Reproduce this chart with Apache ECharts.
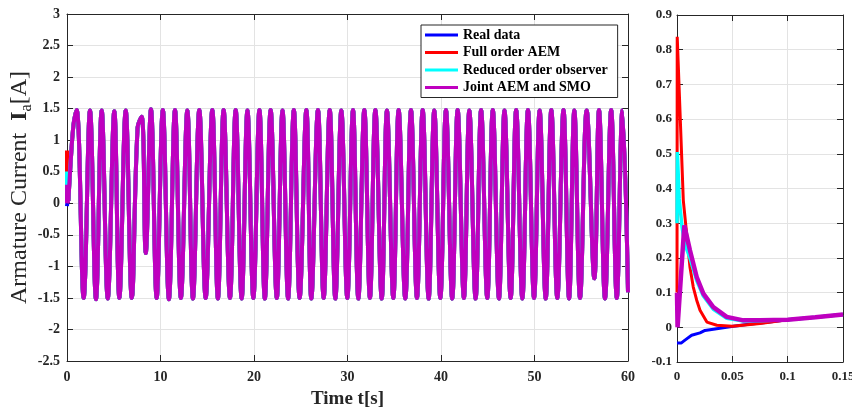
<!DOCTYPE html>
<html><head><meta charset="utf-8">
<script src="https://cdn.jsdelivr.net/npm/echarts@6/dist/echarts.min.js"></script>
<style>html,body{margin:0;padding:0;background:#fff}#c{width:852px;height:409px}</style>
</head><body><div id="c"></div>
<script>
// ---------- data ----------
const seriesNames = ['Real data', 'Full order AEM', 'Reduced order observer', 'Joint AEM and SMO'];

// start-up transient (t in s)
const realT = [0, 0.004, 0.0072, 0.0132, 0.0208, 0.0253, 0.0358, 0.0509, 0.065, 0.08, 0.1, 0.125, 0.15];
const realV = [-0.045, -0.045, -0.037, -0.023, -0.016, -0.009, -0.004, 0.003, 0.009, 0.014, 0.022, 0.029, 0.037];

const fullT = [0, 0.0002, 0.0057, 0.0087, 0.0117, 0.0147, 0.0178, 0.0208, 0.027, 0.036, 0.05, 0.075, 0.1, 0.125, 0.15];
const fullV = [0.1, 0.837, 0.366, 0.27, 0.174, 0.116, 0.078, 0.049, 0.015, 0.006, 0.003, 0.011, 0.022, 0.029, 0.037];

const reducedT = [0, 0.0003, 0.002, 0.0045, 0.007, 0.0117, 0.0178, 0.0238, 0.0328, 0.0449, 0.06, 0.075, 0.1, 0.125, 0.15];
const reducedV = [0.3, 0.505, 0.37, 0.29, 0.24, 0.2, 0.135, 0.09, 0.052, 0.026, 0.018, 0.019, 0.022, 0.029, 0.037];

const jointT = [0, 0.0005, 0.0066, 0.0117, 0.0178, 0.0238, 0.0328, 0.0449, 0.06, 0.075, 0.1, 0.125, 0.15];
const jointV = [0.1, 0.0, 0.294, 0.222, 0.145, 0.097, 0.058, 0.03, 0.02, 0.02, 0.022, 0.029, 0.037];

// steady oscillation (all four estimates coincide), extrema
const oscT = [0.15, 0.35, 0.7, 1.03, 1.78, 2.46, 3.1, 3.71, 4.36, 5.06, 5.6, 6.28, 6.93, 7.55, 7.99, 8.42, 8.98, 9.59,
  10.25, 10.9, 11.55, 12.18, 12.87, 13.47, 14.15, 14.83, 15.54, 16.14, 16.75, 17.43, 18.04, 18.68, 19.3, 19.93,
  20.58, 21.16, 21.78, 22.44, 23.05, 23.65, 24.26, 24.88, 25.6, 26.13, 26.84, 27.45, 28.1, 28.7, 29.34, 29.98,
  30.59, 31.16, 31.8, 32.4, 32.98, 33.66, 34.22, 34.9, 35.47, 36.18, 36.79, 37.43, 38.04, 38.68, 39.28, 39.93,
  40.53, 41.2, 41.78, 42.45, 43.03, 43.7, 44.29, 44.95, 45.54, 46.2, 46.79, 47.45, 48.04, 48.7, 49.3, 49.95,
  50.55, 51.2, 51.8, 52.44, 53.1, 53.7, 54.26, 54.87, 55.58, 56.4, 56.9, 57.54, 58.2, 58.8, 59.4, 60];
const oscV = [0.037, 0.55, 1.25, 1.48, -1.5, 1.47, -1.52, 1.47, -1.51, 1.46, -1.5, 1.47, -1.5, 1.2, 1.37, -0.79, 1.49, -1.5,
  1.48, -1.52, 1.48, -1.5, 1.47, -1.51, 1.48, -1.5, 1.48, -1.51, 1.48, -1.5, 1.48, -1.51, 1.47, -1.5,
  1.48, -1.51, 1.48, -1.5, 1.47, -1.51, 1.48, -1.5, 1.48, -1.51, 1.48, -1.5, 1.48, -1.51, 1.47, -1.5,
  1.48, -1.51, 1.48, -1.5, 1.48, -1.51, 1.47, -1.5, 1.48, -1.51, 1.48, -1.5, 1.48, -1.51, 1.47, -1.5,
  1.48, -1.51, 1.48, -1.5, 1.47, -1.51, 1.48, -1.5, 1.48, -1.51, 1.47, -1.5, 1.48, -1.51, 1.48, -1.5,
  1.47, -1.51, 1.48, -1.5, 1.48, -1.51, 1.47, -1.5, 1.47, -1.19, 1.48, -1.51, 1.48, -1.5, 1.47, -1.41];

// ---------- chart ----------
const colors = ['#0000FF', '#FF0000', '#00FFFF', '#BF00BF'];
const transT = [realT, fullT, reducedT, jointT];
const transV = [realV, fullV, reducedV, jointV];
const insetWidths = [3, 3, 3.5, 4.5];
const zip = (t, v) => t.map((x, i) => [x, v[i]]);

const FONT = 'Liberation Serif';
const AX = '#262626';
const GRIDC = '#E3E3E3';

function axisBase(extra) {
  return Object.assign({
    type: 'value',
    axisLine: { show: true, onZero: false, lineStyle: { color: AX, width: 1 } },
    axisTick: { show: true, inside: true, length: 6, lineStyle: { color: AX } },
    splitLine: { show: false },
    axisLabel: { show: false }
  }, extra);
}
const lab = (size, margin) => ({ show: true, color: AX, fontFamily: FONT, fontWeight: 'bold', fontSize: size, margin: margin, hideOverlap: false });

const series = [];
for (let i = 0; i < 4; i++) {
  series.push({
    name: seriesNames[i], type: 'line', xAxisIndex: 0, yAxisIndex: 0,
    data: zip(transT[i], transV[i]), showSymbol: false, symbol: 'none', clip: false,
    color: colors[i], lineStyle: { color: colors[i], width: 4 }, animation: false
  });
  series.push({
    name: seriesNames[i], type: 'line', xAxisIndex: 0, yAxisIndex: 0,
    data: zip(oscT, oscV), showSymbol: false, symbol: 'none', smooth: 0.4,
    color: colors[i], lineStyle: { color: colors[i], width: 4 }, animation: false
  });
  series.push({
    name: seriesNames[i], type: 'line', xAxisIndex: 2, yAxisIndex: 2,
    data: zip(transT[i], transV[i]), showSymbol: false, symbol: 'none',
    color: colors[i], lineStyle: { color: colors[i], width: insetWidths[i] }, animation: false
  });
}

const option = {
  backgroundColor: '#fff',
  animation: false,
  grid: [
    { left: 67, right: 224, top: 14, bottom: 48, containLabel: false, outerBoundsMode: 'none' },
    { left: 677, right: 9, top: 15, bottom: 47, containLabel: false, outerBoundsMode: 'none' }
  ],
  xAxis: [
    axisBase({ gridIndex: 0, min: 0, max: 60, interval: 10, position: 'bottom',
      axisLabel: lab(14, 9),
      splitLine: { show: true, lineStyle: { color: GRIDC, width: 1 } },
      name: 'Time t[s]', nameLocation: 'middle', nameGap: 29,
      nameTextStyle: { fontFamily: FONT, fontWeight: 'bold', fontSize: 19, color: AX } }),
    axisBase({ gridIndex: 0, min: 0, max: 60, interval: 10, position: 'top' }),
    axisBase({ gridIndex: 1, min: 0, max: 0.15, interval: 0.05, position: 'bottom',
      axisLabel: lab(13, 8),
      splitLine: { show: true, lineStyle: { color: GRIDC, width: 1 } } }),
    axisBase({ gridIndex: 1, min: 0, max: 0.15, interval: 0.05, position: 'top' })
  ],
  yAxis: [
    axisBase({ gridIndex: 0, min: -2.5, max: 3, interval: 0.5, position: 'left',
      axisLabel: lab(14, 7),
      splitLine: { show: true, lineStyle: { color: GRIDC, width: 1 } },
      name: '{t|Armature Current  }{i|I}{s|a}{t|[A]}', nameLocation: 'middle', nameGap: 32, nameRotate: 90,
      nameMoveOverlap: false,
      nameTextStyle: {
        rich: {
          t: { fontFamily: FONT, fontSize: 24, color: AX, lineHeight: 30, verticalAlign: 'middle' },
          i: { fontFamily: FONT, fontSize: 24, fontWeight: 'bold', color: AX, lineHeight: 30, verticalAlign: 'middle' },
          s: { fontFamily: FONT, fontSize: 16, color: AX, lineHeight: 16, verticalAlign: 'bottom' }
        }
      } }),
    axisBase({ gridIndex: 0, min: -2.5, max: 3, interval: 0.5, position: 'right' }),
    axisBase({ gridIndex: 1, min: -0.1, max: 0.9, interval: 0.1, position: 'left',
      axisLabel: lab(13, 5),
      splitLine: { show: true, lineStyle: { color: GRIDC, width: 1 } } }),
    axisBase({ gridIndex: 1, min: -0.1, max: 0.9, interval: 0.1, position: 'right' })
  ],
  legend: {
    data: seriesNames, orient: 'vertical', left: 421, top: 25,
    icon: 'rect', itemWidth: 33, itemHeight: 3, itemGap: 3.5,
    padding: [3, 10, 3, 4], borderColor: AX, borderWidth: 1, backgroundColor: '#fff',
    textStyle: { fontFamily: FONT, fontWeight: 'bold', fontSize: 14, color: '#000', lineHeight: 14 },
    selectedMode: false
  },
  series: series
};

const chart = echarts.init(document.getElementById('c'), null, { renderer: 'canvas' });
chart.setOption(option);
</script>
</body></html>
